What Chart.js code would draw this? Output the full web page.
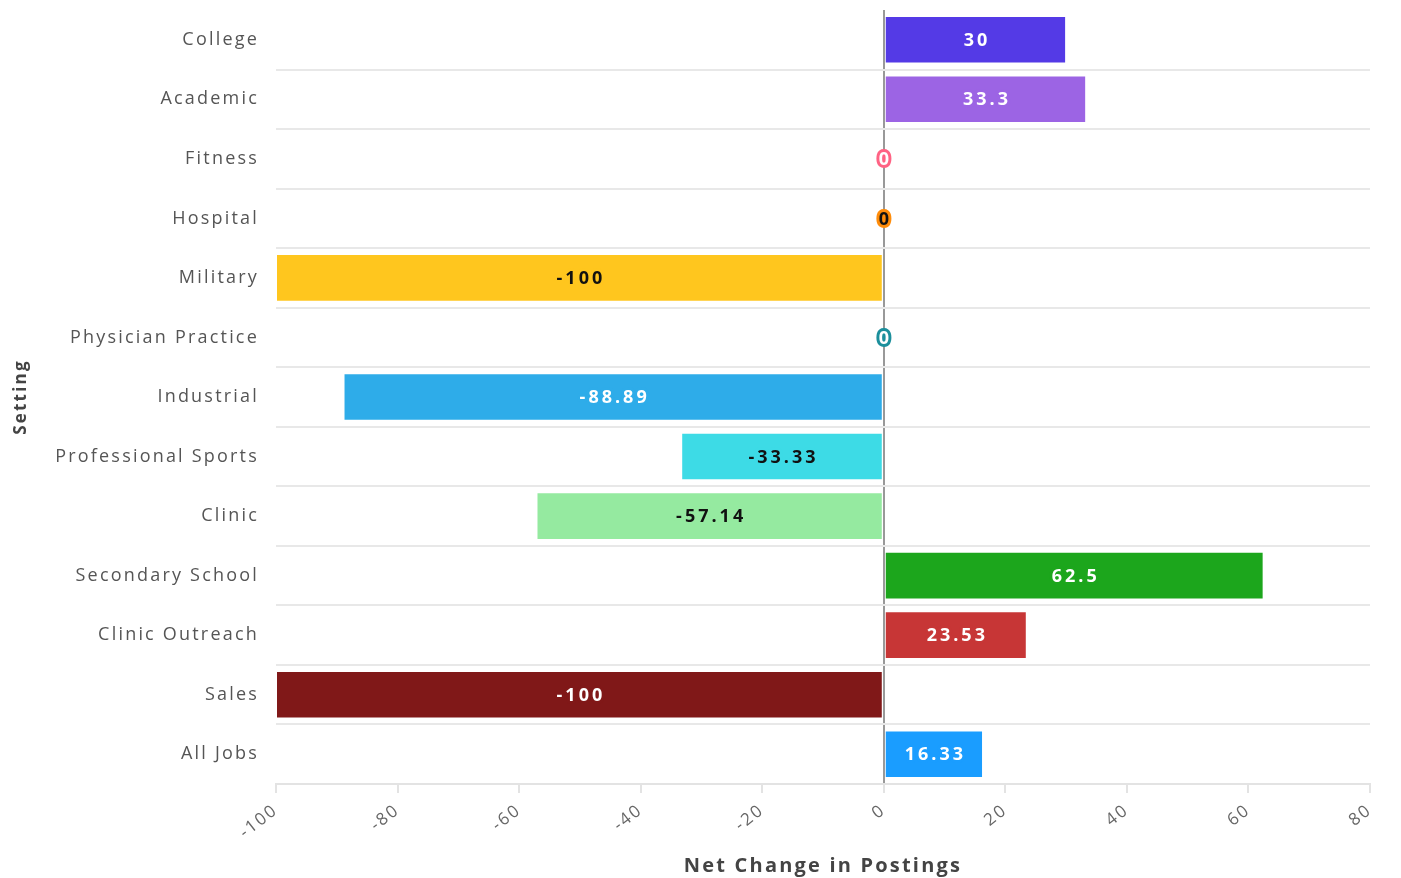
<!DOCTYPE html>
<html lang="en">
<head>
    <meta charset="UTF-8">
    <title>Net Change in Postings by Setting</title>
    <script src="https://cdn.jsdelivr.net/npm/chart.js"></script>
    <style>
        html, body { margin: 0; padding: 0; background: #fff; }
        .chart-container { width: 1401px; height: 878px; position: relative; }
    </style>
</head>
<body>
    <div class="chart-container">
        <canvas id="settingChart"></canvas>
    </div>

    <script>
        // values
        const settings = ['College', 'Academic', 'Fitness', 'Hospital', 'Military', 'Physician Practice',
            'Industrial', 'Professional Sports', 'Clinic', 'Secondary School', 'Clinic Outreach', 'Sales', 'All Jobs'];
        const netChange = [30, 33.3, 0, 0, -100, 0, -88.89, -33.33, -57.14, 62.5, 23.53, -100, 16.33];
        const xTicks = [-100, -80, -60, -40, -20, 0, 20, 40, 60, 80];

        // styling per bar
        const barColors = ['#543ae6', '#9c64e4', '#ff6384', '#ff8c0a', '#ffc61e', '#1c8f9c',
            '#2eace9', '#3ddbe6', '#95eaa0', '#1ca61c', '#c73636', '#801818', '#1a9dff'];
        const labelTextColors = ['#fff', '#fff', '#fff', '#111', '#111', '#fff',
            '#fff', '#111', '#111', '#fff', '#fff', '#fff', '#fff'];

        const FONT = "'Open Sans', 'Noto Sans', sans-serif";

        // the reference text is set quite wide, so space the letters out a bit
        const wideText = {
            id: 'wideText',
            beforeLayout(chart) { chart.ctx.letterSpacing = '2.2px'; },
            beforeDraw(chart) { chart.ctx.letterSpacing = '2.2px'; }
        };

        // draws the value on each bar, with a halo in the bar's colour
        const valueLabels = {
            id: 'valueLabels',
            afterDatasetsDraw(chart) {
                const ctx = chart.ctx;
                const meta = chart.getDatasetMeta(0);
                ctx.save();
                ctx.font = 'bold 18px ' + FONT;
                ctx.letterSpacing = '3px';
                ctx.textAlign = 'center';
                ctx.textBaseline = 'middle';
                ctx.lineJoin = 'round';
                meta.data.forEach((bar, i) => {
                    const cx = (bar.x + bar.base) / 2 + 1.5;
                    const text = String(netChange[i]);
                    ctx.lineWidth = 6;
                    ctx.strokeStyle = barColors[i];
                    ctx.strokeText(text, cx, bar.y + 1);
                    ctx.fillStyle = labelTextColors[i];
                    ctx.fillText(text, cx, bar.y + 1);
                });
                ctx.restore();
            }
        };

        const ctx = document.getElementById('settingChart').getContext('2d');
        new Chart(ctx, {
            type: 'bar',
            data: {
                labels: settings,
                datasets: [{
                    label: 'Net Change in Postings',
                    data: netChange,
                    backgroundColor: barColors,
                    borderColor: 'rgba(255, 255, 255, 0.25)',
                    borderWidth: 1,
                    borderSkipped: false,
                    barPercentage: 0.8,
                    categoryPercentage: 1.0
                }]
            },
            options: {
                indexAxis: 'y',
                responsive: true,
                maintainAspectRatio: false,
                animation: false,
                layout: {
                    padding: { top: 10, right: 31, left: 0, bottom: 0 }
                },
                plugins: {
                    legend: { display: false },
                    tooltip: { enabled: false }
                },
                scales: {
                    x: {
                        min: -100,
                        max: 80,
                        afterBuildTicks: scale => {
                            scale.ticks = xTicks.map(v => ({ value: v }));
                        },
                        afterFit: scale => {
                            scale.height = 94;
                            scale.paddingLeft = 0;
                            scale.paddingRight = 0;
                        },
                        border: { display: true, color: '#e3e3e3', width: 2 },
                        grid: {
                            drawOnChartArea: true,
                            drawTicks: true,
                            tickLength: 9,
                            color: c => (c.tick && c.tick.value === 0) ? '#999' : 'transparent',
                            tickColor: '#e3e3e3',
                            lineWidth: 2
                        },
                        ticks: {
                            minRotation: 38,
                            maxRotation: 38,
                            color: '#666',
                            font: { family: FONT, size: 17 },
                            padding: 7
                        },
                        title: {
                            display: true,
                            text: 'Net Change in Postings',
                            color: '#444',
                            font: { family: FONT, size: 20, weight: 'bold' },
                            padding: { top: 10, bottom: 0 }
                        }
                    },
                    y: {
                        afterFit: scale => {
                            scale.width = 276;
                            scale.paddingTop = 0;
                            scale.paddingBottom = 0;
                        },
                        border: { display: false },
                        grid: {
                            offset: true,
                            drawTicks: false,
                            color: c => c.index === 0 ? 'transparent' : '#e8e8e8',
                            lineWidth: 2
                        },
                        ticks: {
                            color: '#555',
                            font: { family: FONT, size: 18 },
                            padding: 17
                        },
                        title: {
                            display: true,
                            text: 'Setting',
                            color: '#444',
                            font: { family: FONT, size: 17, weight: 'bold' },
                            padding: { top: 11, bottom: 0 }
                        }
                    }
                }
            },
            plugins: [wideText, valueLabels]
        });
    </script>
</body>
</html>
